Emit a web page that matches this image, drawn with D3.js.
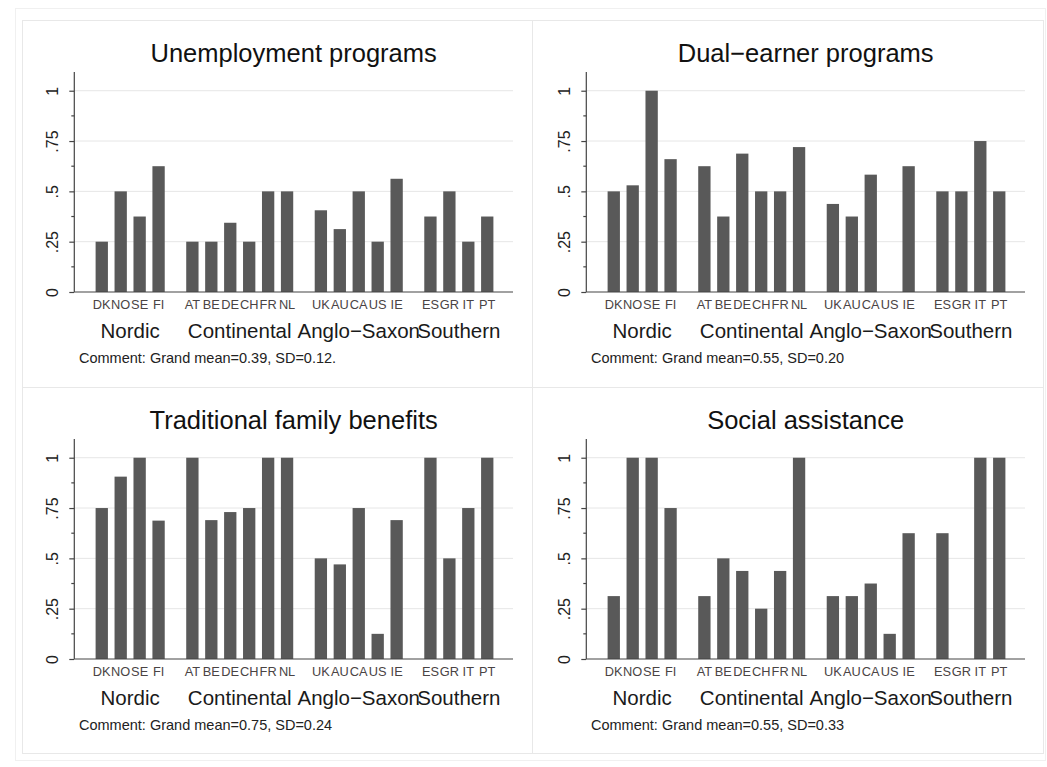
<!DOCTYPE html>
<html>
<head>
<meta charset="utf-8">
<script src="https://cdn.jsdelivr.net/npm/d3@7"></script>
<style>
  html, body { margin: 0; padding: 0; background: #fff; }
  svg { display: block; }
  text { font-family: "Liberation Sans", Arial, Helvetica, sans-serif; }
</style>
</head>
<body>
<svg id="chart" width="1047" height="767"></svg>
<script>
// ---------- data ----------
const countries = ["DK","NO","SE","FI","AT","BE","DE","CH","FR","NL","UK","AU","CA","US","IE","ES","GR","IT","PT"];
const regimes = ["Nordic","Continental","Anglo\u2212Saxon","Southern"];
const regimeSizes = [4, 6, 5, 4];

const unemploymentPrograms = [0.25,0.5,0.375,0.625, 0.25,0.25,0.344,0.25,0.5,0.5, 0.406,0.3125,0.5,0.25,0.5625, 0.375,0.5,0.25,0.375];
const dualEarnerPrograms   = [0.5,0.53,1,0.66, 0.625,0.375,0.6875,0.5,0.5,0.72, 0.4375,0.375,0.583,null,0.625, 0.5,0.5,0.75,0.5];
const traditionalFamily    = [0.75,0.906,1,0.6875, 1,0.69,0.73,0.75,1,1, 0.5,0.47,0.75,0.125,0.69, 1,0.5,0.75,1];
const socialAssistance     = [0.3125,1,1,0.75, 0.3125,0.5,0.4375,0.25,0.4375,1, 0.3125,0.3125,0.375,0.125,0.625, 0.625,null,1,1];

const panelTitles = ["Unemployment programs","Dual\u2212earner programs","Traditional family benefits","Social assistance"];
const panelComments = [
  "Comment: Grand mean=0.39, SD=0.12.",
  "Comment: Grand mean=0.55, SD=0.20",
  "Comment: Grand mean=0.75, SD=0.24",
  "Comment: Grand mean=0.55, SD=0.33"
];
const panelSeries = [unemploymentPrograms, dualEarnerPrograms, traditionalFamily, socialAssistance];

const yTicks = [0, 0.25, 0.5, 0.75, 1];
const yTickLabels = ["0", ".25", ".5", ".75", "1"];
const yMinorTicks = [0.125, 0.375, 0.625, 0.875];

// ---------- layout ----------
const svg = d3.select("#chart");
svg.append("rect").attr("width",1047).attr("height",767).attr("fill","#fff");

const groupGap = 0.785;
const regimeIndex = [];
regimeSizes.forEach((n, g) => { for (let k = 0; k < n; k++) regimeIndex.push(g); });
const slotPos = countries.map((c, i) => i + regimeIndex[i] * groupGap);
const lastPos = slotPos[slotPos.length - 1];

const plotL = 74.3, plotR = 513, plotT = 72, plotB = 292;
const x = d3.scaleLinear().domain([-1.45, lastPos + 1.36]).range([plotL, plotR]);
const pitch = x(1) - x(0);
const barW = pitch * 0.65;
const y = d3.scaleLinear().domain([0, 1.093]).range([plotB, plotT]);

const panelOffsets = [[0,0],[512,0],[0,367],[512,367]];
const panelBoxes = [[22,20,532,387],[532,20,1043,387],[22,387,532,753],[532,387,1043,753]];

svg.append("rect").attr("x",15.5).attr("y",8.5).attr("width",1030).attr("height",752)
  .attr("fill","none").attr("stroke","#f0f0f0");
panelBoxes.forEach(b => {
  svg.append("rect").attr("x",b[0]+0.5).attr("y",b[1]+0.5).attr("width",b[2]-b[0]).attr("height",b[3]-b[1])
    .attr("fill","none").attr("stroke","#e8e8e8");
});

panelSeries.forEach((series, p) => {
  const [ox, oy] = panelOffsets[p];
  const g = svg.append("g").attr("transform", `translate(${ox},${oy})`);

  g.selectAll("line.grid").data(yTicks.filter(t => t > 0)).enter().append("line")
    .attr("x1", plotL).attr("x2", plotR)
    .attr("y1", d => y(d)).attr("y2", d => y(d))
    .attr("stroke", "#e6e6e6").attr("stroke-width", 1);

  g.selectAll("rect.bar").data(series.map((v, i) => ({v, i})).filter(d => d.v != null)).enter().append("rect")
    .attr("x", d => x(slotPos[d.i]) - barW / 2)
    .attr("width", barW)
    .attr("y", d => y(d.v))
    .attr("height", d => y(0) - y(d.v))
    .attr("fill", "#595959");

  const yAxis = d3.axisLeft(y).tickValues(yTicks).tickSize(5).tickFormat((d, i) => yTickLabels[i]);
  const ya = g.append("g").attr("transform", `translate(${plotL},0)`).call(yAxis);
  ya.select(".domain").remove();
  ya.selectAll(".tick line").attr("stroke", "#444").attr("stroke-width", 1.2);
  ya.selectAll(".tick text")
    .attr("font-size", 16).attr("fill", "#222")
    .attr("text-anchor", "middle")
    .attr("x", null).attr("dy", null)
    .attr("transform", "translate(-16,0) rotate(-90)");
  g.append("line").attr("x1", plotL).attr("x2", plotL).attr("y1", plotT).attr("y2", plotB)
    .attr("stroke", "#444").attr("stroke-width", 1.2);
  g.selectAll("line.minor").data(yMinorTicks).enter().append("line")
    .attr("x1", plotL - 3).attr("x2", plotL)
    .attr("y1", d => y(d)).attr("y2", d => y(d))
    .attr("stroke", "#444").attr("stroke-width", 1.2);

  g.append("line").attr("x1", plotL).attr("x2", plotR).attr("y1", y(0)).attr("y2", y(0))
    .attr("stroke", "#444").attr("stroke-width", 1.2);

  g.selectAll("text.cat").data(countries).enter().append("text")
    .attr("x", (d, i) => x(slotPos[i])).attr("y", plotB + 17)
    .attr("text-anchor", "middle").attr("font-size", 12.8).attr("fill", "#4a4444")
    .text(d => d);

  let start = 0;
  regimeSizes.forEach((n, gi) => {
    const cx = (x(slotPos[start]) + x(slotPos[start + n - 1])) / 2;
    g.append("text").attr("x", cx).attr("y", plotB + 46)
      .attr("text-anchor", "middle").attr("font-size", 20.5).attr("fill", "#1a1a1a")
      .text(regimes[gi]);
    start += n;
  });

  g.append("text").attr("x", 79).attr("y", plotB + 71)
    .attr("font-size", 14.5).attr("fill", "#222").text(panelComments[p]);

  g.append("text").attr("x", (plotL + plotR) / 2).attr("y", 62)
    .attr("text-anchor", "middle").attr("font-size", 25.5).attr("fill", "#111")
    .text(panelTitles[p]);
});
</script>
</body>
</html>
